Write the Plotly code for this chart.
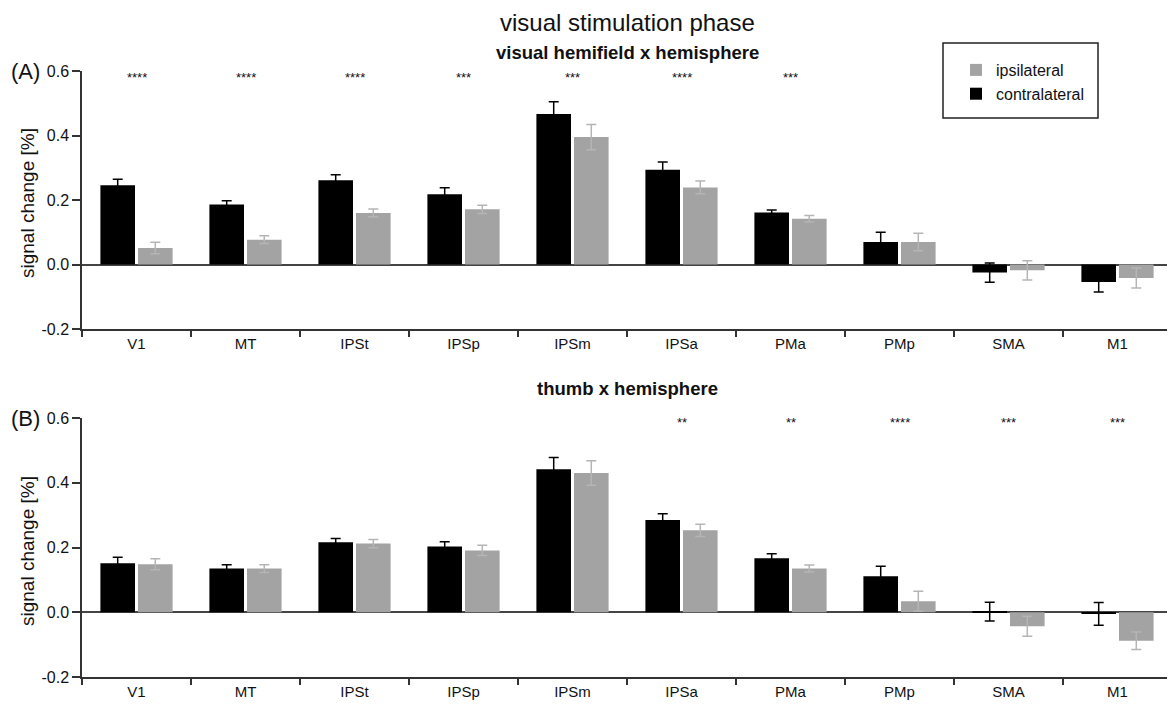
import plotly.graph_objects as go

regions = ["V1", "MT", "IPSt", "IPSp", "IPSm", "IPSa", "PMa", "PMp", "SMA", "M1"]

# Panel A: visual hemifield x hemisphere
a_contra = [0.246, 0.186, 0.261, 0.218, 0.467, 0.294, 0.161, 0.070, -0.025, -0.054]
a_contra_err = [0.018, 0.012, 0.017, 0.020, 0.038, 0.024, 0.008, 0.030, 0.030, 0.031]
a_ipsi = [0.051, 0.077, 0.160, 0.171, 0.395, 0.239, 0.142, 0.070, -0.018, -0.042]
a_ipsi_err = [0.018, 0.012, 0.012, 0.013, 0.039, 0.020, 0.010, 0.027, 0.030, 0.031]
a_stars = ["****", "****", "****", "***", "***", "****", "***", "", "", ""]

# Panel B: thumb x hemisphere
b_contra = [0.151, 0.135, 0.216, 0.203, 0.442, 0.285, 0.167, 0.111, 0.002, -0.005]
b_contra_err = [0.019, 0.012, 0.012, 0.015, 0.036, 0.019, 0.014, 0.031, 0.029, 0.035]
b_ipsi = [0.148, 0.135, 0.212, 0.191, 0.430, 0.253, 0.135, 0.034, -0.043, -0.088]
b_ipsi_err = [0.017, 0.012, 0.013, 0.016, 0.038, 0.019, 0.011, 0.031, 0.031, 0.027]
b_stars = ["", "", "", "", "", "**", "**", "****", "***", "***"]

BLACK = "#000000"
GRAY = "#a3a3a3"
GRAY_ERR = "#b5b5b5"
FONT = "Arial, Liberation Sans, sans-serif"
TXT = "#111111"

OFF = 8  # page body margin
W, H = 1175 - OFF, 706 - OFF
ML = 82 - OFF
MR = 3
PW = W - ML - MR

def px_x(px):
    return (px - OFF - ML) / PW

def py(px):
    return 1 - (px - OFF) / H

fig = go.Figure()

def add_panel(contra, cerr, ipsi, ierr, xa, ya, show):
    fig.add_trace(go.Bar(
        x=regions, y=contra, name="contralateral", marker=dict(color=BLACK, line=dict(width=0)),
        error_y=dict(type="data", array=cerr, symmetric=True, color=BLACK, thickness=1.5, width=5),
        xaxis=xa, yaxis=ya, showlegend=show, legendrank=2))
    fig.add_trace(go.Bar(
        x=regions, y=ipsi, name="ipsilateral", marker=dict(color=GRAY, line=dict(width=0)),
        error_y=dict(type="data", array=ierr, symmetric=True, color=GRAY_ERR, thickness=1.5, width=5),
        xaxis=xa, yaxis=ya, showlegend=show, legendrank=1))

add_panel(a_contra, a_contra_err, a_ipsi, a_ipsi_err, "x", "y", True)
add_panel(b_contra, b_contra_err, b_ipsi, b_ipsi_err, "x2", "y2", False)

axis_common = dict(showline=True, linecolor="#333333", linewidth=1.5, ticks="outside",
                   tickcolor="#333333", tickwidth=1.5, showgrid=False, automargin=False)
yt = dict(tickvals=[-0.2, 0.0, 0.2, 0.4, 0.6], ticktext=["-0.2", "0.0", "0.2", "0.4", "0.6"],
          ticklen=8, range=[-0.2, 0.6], zeroline=True, zerolinecolor="#444444", zerolinewidth=1.5,
          tickfont=dict(family=FONT, size=16, color=TXT))
xt = dict(tickson="boundaries", ticklen=6, tickfont=dict(family=FONT, size=15, color=TXT))

fig.update_layout(
    width=W, height=H,
    margin=dict(l=ML, r=MR, t=0, b=0),
    plot_bgcolor="white", paper_bgcolor="white",
    barmode="group", bargap=0.31, bargroupgap=0.08,
    font=dict(family=FONT, color=TXT),
    xaxis=dict(**axis_common, **xt, domain=[0, 1], anchor="y"),
    yaxis=dict(**axis_common, **yt, domain=[py(329), py(71)], anchor="x"),
    xaxis2=dict(**axis_common, **xt, domain=[0, 1], anchor="y2"),
    yaxis2=dict(**axis_common, **yt, domain=[py(677), py(418)], anchor="x2"),
    legend=dict(x=px_x(956), y=py(53), xanchor="left", yanchor="top",
                font=dict(family=FONT, size=16, color=TXT), bgcolor="rgba(0,0,0,0)",
                borderwidth=0, itemwidth=30, traceorder="normal"),
)

# legend frame
fig.add_shape(type="rect", xref="paper", yref="paper",
              x0=px_x(943), x1=px_x(1098), y0=py(118), y1=py(43),
              line=dict(color="#222222", width=1.5), fillcolor="rgba(0,0,0,0)")

ann = []
ann.append(dict(text="visual stimulation phase", x=0.5, y=1, xref="paper", yref="paper",
                showarrow=False, font=dict(size=24, family=FONT, color=TXT), yanchor="top",
                borderpad=0))
ann.append(dict(text="<b>visual hemifield x hemisphere</b>", x=0.5, y=py(41), xref="paper", yref="paper",
                showarrow=False, font=dict(size=18.5, family=FONT, color=TXT), yanchor="top",
                borderpad=0))
ann.append(dict(text="<b>thumb x hemisphere</b>", x=0.5, y=py(388), xref="paper", yref="paper",
                showarrow=False, font=dict(size=18.5, family=FONT, color=TXT), yanchor="middle"))
ann.append(dict(text="(A)", x=px_x(9), y=py(71), xref="paper", yref="paper", xanchor="left",
                showarrow=False, font=dict(size=22, family=FONT, color=TXT), yanchor="middle"))
ann.append(dict(text="(B)", x=px_x(9), y=py(418), xref="paper", yref="paper", xanchor="left",
                showarrow=False, font=dict(size=22, family=FONT, color=TXT), yanchor="middle"))
for yc in (203, 551):
    ann.append(dict(text="signal change [%]", x=px_x(27), y=py(yc), xref="paper", yref="paper",
                    textangle=-90, showarrow=False, xanchor="center", yanchor="middle",
                    font=dict(size=19, family=FONT, color=TXT)))
for r, s in zip(regions, a_stars):
    if s:
        ann.append(dict(text=s, x=r, y=0.58, xref="x", yref="y", showarrow=False,
                        font=dict(size=13, family=FONT, color=TXT), yanchor="middle"))
for r, s in zip(regions, b_stars):
    if s:
        ann.append(dict(text=s, x=r, y=0.585, xref="x2", yref="y2", showarrow=False,
                        font=dict(size=13, family=FONT, color=TXT), yanchor="middle"))
fig.update_layout(annotations=ann)

fig.write_html("out.html")
